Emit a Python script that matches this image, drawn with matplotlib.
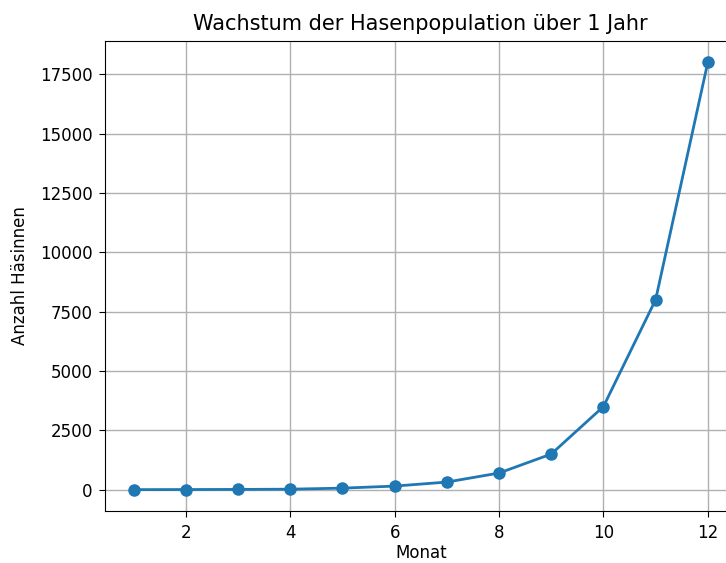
import matplotlib
matplotlib.use("Agg")
import matplotlib.pyplot as plt

# Monate und geschaetzte Anzahl Haesinnen
monate = [1, 2, 3, 4, 5, 6, 7, 8, 9, 10, 11, 12]
haesinnen = [1, 5, 10, 20, 64, 150, 320, 700, 1500, 3500, 8000, 18000]

plt.rcParams['font.size'] = 12
plt.rcParams['xtick.major.size'] = 4.5
plt.rcParams['ytick.major.size'] = 4.5
plt.rcParams['xtick.major.pad'] = 4.5
plt.rcParams['ytick.major.pad'] = 4.5

fig = plt.figure(figsize=(7.26, 5.63), dpi=100)
ax = fig.add_axes([105 / 726, 52 / 563, 631.5 / 726, 470 / 563])
ax.plot(monate, haesinnen, marker='o', color='#1f77b4', linewidth=2, markersize=8)
ax.set_title('Wachstum der Hasenpopulation über 1 Jahr', fontsize=15, pad=8)
ax.set_xlabel('Monat', fontsize=12, labelpad=2)
ax.set_ylabel('Anzahl Häsinnen', fontsize=12, labelpad=8)
ax.grid(True, linewidth=1)

fig.savefig('out.png', dpi=100)
